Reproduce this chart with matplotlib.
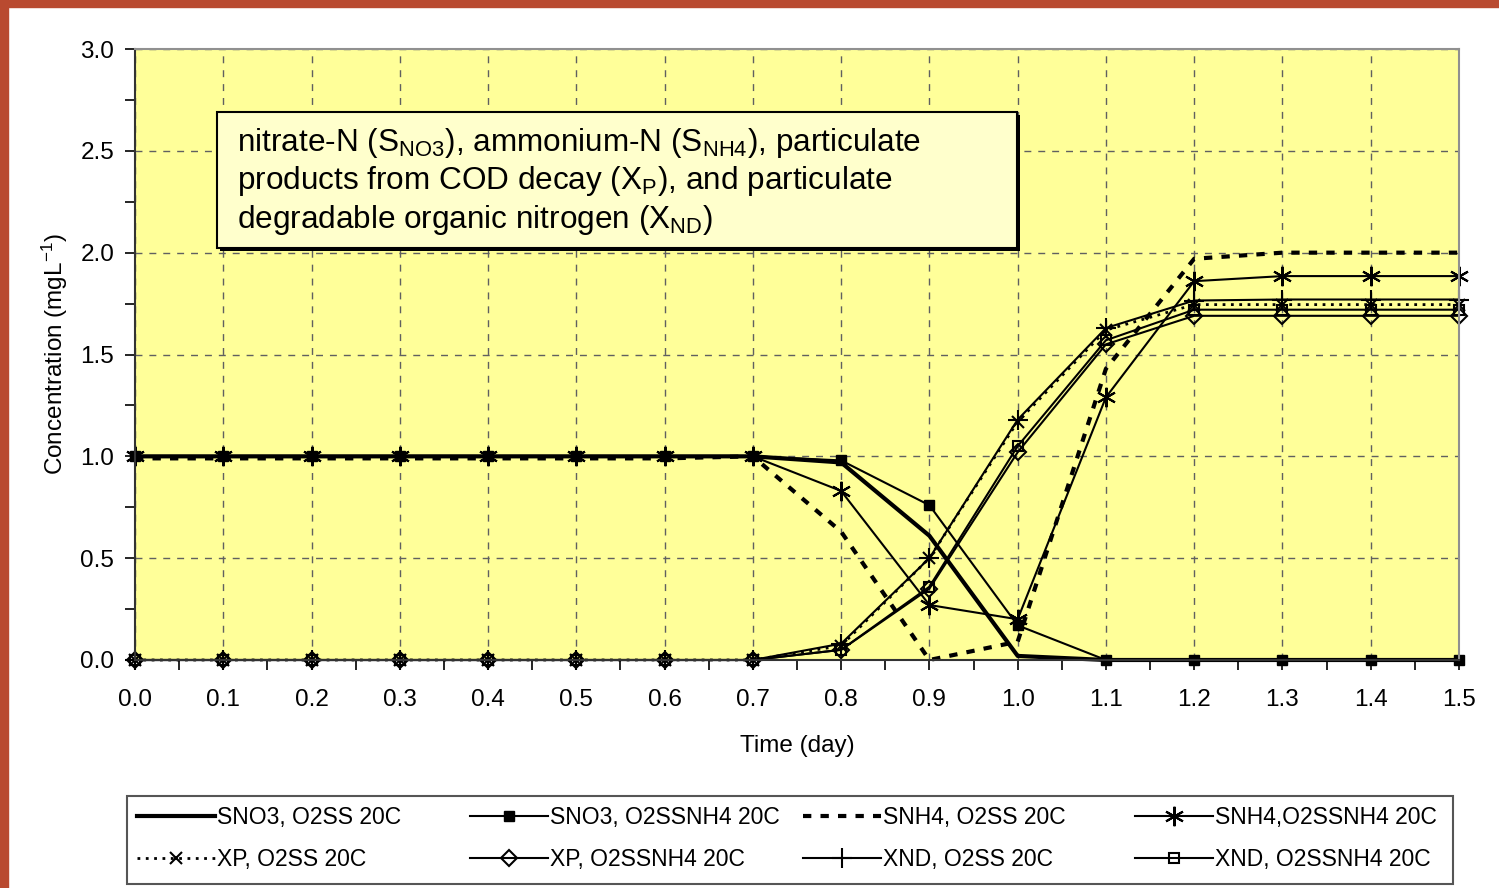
import numpy as np
import matplotlib.pyplot as plt
from matplotlib.patches import Rectangle

plt.rcParams['font.family'] = 'Liberation Sans'
plt.rcParams['mathtext.fontset'] = 'custom'
plt.rcParams['mathtext.rm'] = 'Liberation Sans'
plt.rcParams['mathtext.it'] = 'Liberation Sans:italic'

# -------- DATA --------
time = [0.0, 0.1, 0.2, 0.3, 0.4, 0.5, 0.6, 0.7, 0.8, 0.9, 1.0, 1.1, 1.2, 1.3, 1.4, 1.5]

sno3_o2ss = [1.0, 1.0, 1.0, 1.0, 1.0, 1.0, 1.0, 1.0, 0.97, 0.61, 0.02, 0.0, 0.0, 0.0, 0.0, 0.0]
sno3_o2ssnh4 = [1.0, 1.0, 1.0, 1.0, 1.0, 1.0, 1.0, 1.0, 0.98, 0.76, 0.17, 0.0, 0.0, 0.0, 0.0, 0.0]
snh4_o2ss = [0.99, 0.99, 0.99, 0.99, 0.99, 0.99, 0.99, 1.0, 0.63, 0.0, 0.09, 1.43, 1.97, 2.0, 2.0, 2.0]
snh4_o2ssnh4 = [1.0, 1.0, 1.0, 1.0, 1.0, 1.0, 1.0, 1.0, 0.83, 0.27, 0.20, 1.29, 1.86, 1.885, 1.885, 1.885]
xp_o2ss = [0.0, 0.0, 0.0, 0.0, 0.0, 0.0, 0.0, 0.0, 0.07, 0.50, 1.17, 1.62, 1.745, 1.745, 1.745, 1.745]
xp_o2ssnh4 = [0.0, 0.0, 0.0, 0.0, 0.0, 0.0, 0.0, 0.0, 0.05, 0.35, 1.02, 1.55, 1.69, 1.69, 1.69, 1.69]
xnd_o2ss = [0.0, 0.0, 0.0, 0.0, 0.0, 0.0, 0.0, 0.0, 0.08, 0.50, 1.18, 1.63, 1.765, 1.77, 1.77, 1.77]
xnd_o2ssnh4 = [0.0, 0.0, 0.0, 0.0, 0.0, 0.0, 0.0, 0.0, 0.05, 0.36, 1.05, 1.57, 1.72, 1.72, 1.72, 1.72]

W, H = 1499, 888

# -------- FIGURE --------
fig = plt.figure(figsize=(W / 100, H / 100), dpi=100)
fig.patches.append(Rectangle((0, 0), 8 / W, 1, transform=fig.transFigure,
                             color='#B94A30', zorder=0))
fig.patches.append(Rectangle((0, 1 - 7 / H), 1, 7 / H, transform=fig.transFigure,
                             color='#B94A30', zorder=0))

ax = fig.add_axes([135 / W, 1 - 660 / H, 1324 / W, 611 / H])
ax.set_facecolor('#FFFF99')

k = dict(color='black', clip_on=False)
h1, = ax.plot(time, sno3_o2ss, '-', lw=3, label='SNO3, O2SS 20C', **k)
h2, = ax.plot(time, sno3_o2ssnh4, '-', lw=1.5, marker='s', ms=7, mfc='black',
              label='SNO3, O2SSNH4 20C', **k)
h3, = ax.plot(time, snh4_o2ss, linestyle=(0, (2, 2.2)), lw=3, label='SNH4, O2SS 20C', **k)
h4, = ax.plot(time, snh4_o2ssnh4, '-', lw=1.5, marker=(6, 2, 0), ms=14, mew=1.5,
              label='SNH4,O2SSNH4 20C', **k)
h5, = ax.plot(time, xp_o2ss, linestyle=(0, (1, 2)), lw=2, marker='x', ms=9, mew=1.5,
              label='XP, O2SS 20C', **k)
h6, = ax.plot(time, xp_o2ssnh4, '-', lw=1.5, marker='D', ms=8, mfc='none', mew=1.5,
              label='XP, O2SSNH4 20C', **k)
h7, = ax.plot(time, xnd_o2ss, '-', lw=1.5, marker='+', ms=15, mew=1.5,
              label='XND, O2SS 20C', **k)
h8, = ax.plot(time, xnd_o2ssnh4, '-', lw=1.5, marker='s', ms=7, mfc='none', mew=1.5,
              label='XND, O2SSNH4 20C', **k)

ax.set_xlim(0, 1.5)
ax.set_ylim(0, 3.0)
ax.set_xticks(np.arange(0, 1.51, 0.1))
ax.set_xticklabels([f'{v:.1f}' for v in np.arange(0, 1.51, 0.1)])
ax.set_xticks(np.arange(0.05, 1.5, 0.1), minor=True)
ax.set_yticks(np.arange(0, 3.01, 0.5))
ax.set_yticklabels([f'{v:.1f}' for v in np.arange(0, 3.01, 0.5)])
ax.set_yticks(np.arange(0.25, 3.0, 0.5), minor=True)
ax.tick_params(axis='both', which='both', direction='out', length=7, width=1.2, labelsize=17.5)
ax.tick_params(axis='y', which='major', pad=8)
ax.tick_params(axis='x', which='major', pad=14)
ax.grid(True, which='major', linestyle=(0, (5, 5)), color='#606060', lw=1)

for s in ['top', 'right']:
    ax.spines[s].set_color('#909090')
    ax.spines[s].set_linewidth(1.5)
for s in ['left', 'bottom']:
    ax.spines[s].set_color('#333333')
    ax.spines[s].set_linewidth(1.5)

ax.set_xlabel('Time (day)', fontsize=17.5, labelpad=17)
ax.set_ylabel(r'Concentration (mgL$^{\mathrm{-1}}$)', fontsize=17.5, labelpad=7)

# -------- ANNOTATION BOX --------
bx0, bx1 = 82 / 1324, 882 / 1324
by0, by1 = (660 - 248) / 611, (660 - 112) / 611
ax.add_patch(Rectangle((bx0 + 3 / 1324, by0 - 3 / 611), bx1 - bx0, by1 - by0,
                       transform=ax.transAxes, facecolor='black', edgecolor='none', zorder=5))
ax.add_patch(Rectangle((bx0, by0), bx1 - bx0, by1 - by0, transform=ax.transAxes,
                       facecolor='#FFFFCC', edgecolor='black', lw=1.5, zorder=6))
lines = [r'nitrate-N (S$_{\mathrm{NO3}}$), ammonium-N (S$_{\mathrm{NH4}}$), particulate',
         r'products from COD decay (X$_{\mathrm{P}}$), and particulate',
         r'degradable organic nitrogen (X$_{\mathrm{ND}}$)']
for i, line in enumerate(lines):
    ax.text((237 - 135) / 1324, (660 - (143 + 38.5 * i)) / 611, line, transform=ax.transAxes,
            fontsize=22.7, va='center', ha='left', zorder=7)

# -------- LEGEND (one frame, four columns) --------
fig.patches.append(Rectangle((127 / W, 1 - 884 / H), 1326 / W, 88 / H,
                             transform=fig.transFigure, facecolor='white',
                             edgecolor='#555555', lw=1.5, zorder=1))
columns = [(h1, h5), (h2, h6), (h3, h7), (h4, h8)]
col_x = [137, 470, 803, 1135]
for x, hs in zip(col_x, columns):
    fig.legend(handles=list(hs), labels=[h.get_label() for h in hs], ncol=1,
               loc='upper left', bbox_to_anchor=(x / W, 1 - 806 / H),
               borderaxespad=0, borderpad=0, fontsize=16.5, handlelength=3.4,
               handletextpad=0.1, labelspacing=0.85, frameon=False)

plt.savefig('out.png', dpi=100)
